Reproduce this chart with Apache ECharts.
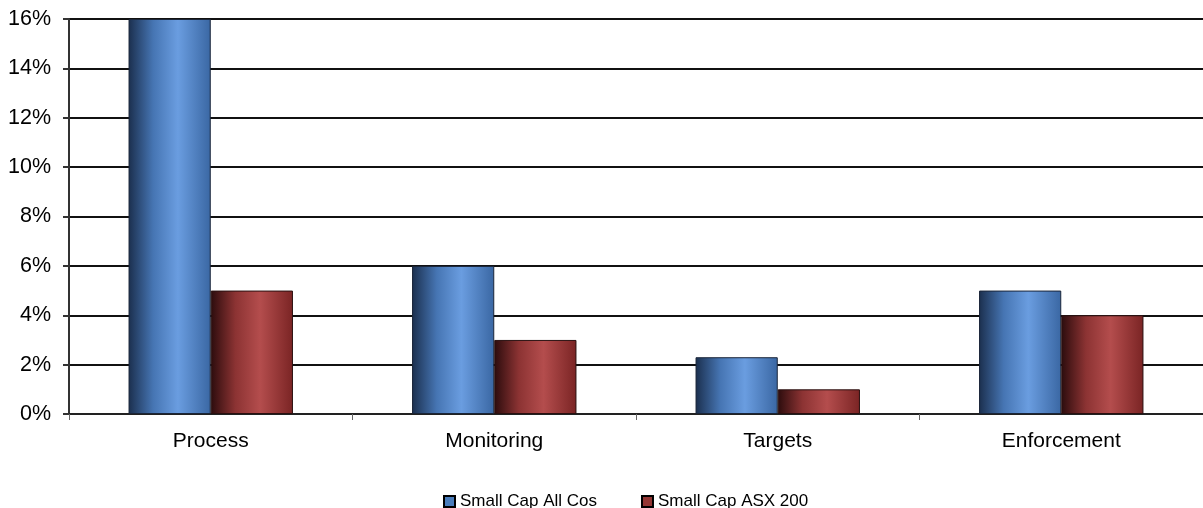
<!DOCTYPE html>
<html>
<head>
<meta charset="utf-8">
<script src="https://cdn.jsdelivr.net/npm/echarts@6/dist/echarts.min.js"></script>
<style>
  html, body { margin: 0; padding: 0; background: #fff; }
  #chart { width: 1203px; height: 508px; }
</style>
</head>
<body>
<div id="chart"></div>
<script>
// Governance categories and the share of companies (in %) for each group
const categories = ['Process', 'Monitoring', 'Targets', 'Enforcement'];
const smallCapAllCos = [16, 6, 2.3, 5];
const smallCapAsx200 = [5, 3, 1, 4];
const yTicks = { min: 0, max: 16, interval: 2 };

const FONT = "'Liberation Sans', Arial, sans-serif";

// Horizontal shading that gives each bar a rounded, cylinder-like look
function shade(dark, mid, light, edge) {
  return new echarts.graphic.LinearGradient(0, 0, 1, 0, [
    { offset: 0, color: dark },
    { offset: 0.3, color: mid },
    { offset: 0.6, color: light },
    { offset: 1, color: edge }
  ]);
}

const blueFill = shade('#1b2f4e', '#4675b3', '#6a9de0', '#3a67a3');
const redFill = shade('#2c0c0d', '#8c3333', '#b44d4d', '#7a2424');

const chart = echarts.init(document.getElementById('chart'), null, { renderer: 'canvas' });

chart.setOption({
  animation: false,
  backgroundColor: '#ffffff',
  textStyle: { fontFamily: FONT },
  grid: { left: 69, right: 0, top: 19, bottom: 94, containLabel: false },
  legend: {
    left: 443,
    top: 493,
    padding: 0,
    itemGap: 44,
    itemWidth: 11,
    itemHeight: 11,
    icon: 'rect',
    textStyle: { fontSize: 17, color: '#000', fontFamily: FONT },
    data: [
      { name: 'Small Cap All Cos', itemStyle: { color: '#4a7dbb', borderColor: '#000', borderWidth: 2 } },
      { name: 'Small Cap ASX 200', itemStyle: { color: '#943634', borderColor: '#000', borderWidth: 2 } }
    ]
  },
  xAxis: {
    type: 'category',
    data: categories,
    axisLine: { show: true, lineStyle: { color: '#222', width: 2 } },
    axisTick: { show: true, length: 6, lineStyle: { color: '#666', width: 1 } },
    axisLabel: { fontSize: 21, color: '#000', margin: 17, fontFamily: FONT }
  },
  yAxis: {
    type: 'value',
    min: yTicks.min,
    max: yTicks.max,
    interval: yTicks.interval,
    axisLine: { show: true, lineStyle: { color: '#333', width: 2 } },
    axisTick: { show: true, length: 6, lineStyle: { color: '#333', width: 2 } },
    axisLabel: { formatter: '{value}%', fontSize: 21.5, color: '#000', margin: 18, fontFamily: FONT },
    splitLine: { show: true, lineStyle: { color: '#111', width: 2 } }
  },
  series: [
    {
      name: 'Small Cap All Cos',
      type: 'bar',
      data: smallCapAllCos,
      barGap: '0%',
      barCategoryGap: '42%',
      itemStyle: { color: blueFill, borderColor: '#1a2538', borderWidth: 1 }
    },
    {
      name: 'Small Cap ASX 200',
      type: 'bar',
      data: smallCapAsx200,
      itemStyle: { color: redFill, borderColor: '#2a1010', borderWidth: 1 }
    }
  ]
});
</script>
</body>
</html>
